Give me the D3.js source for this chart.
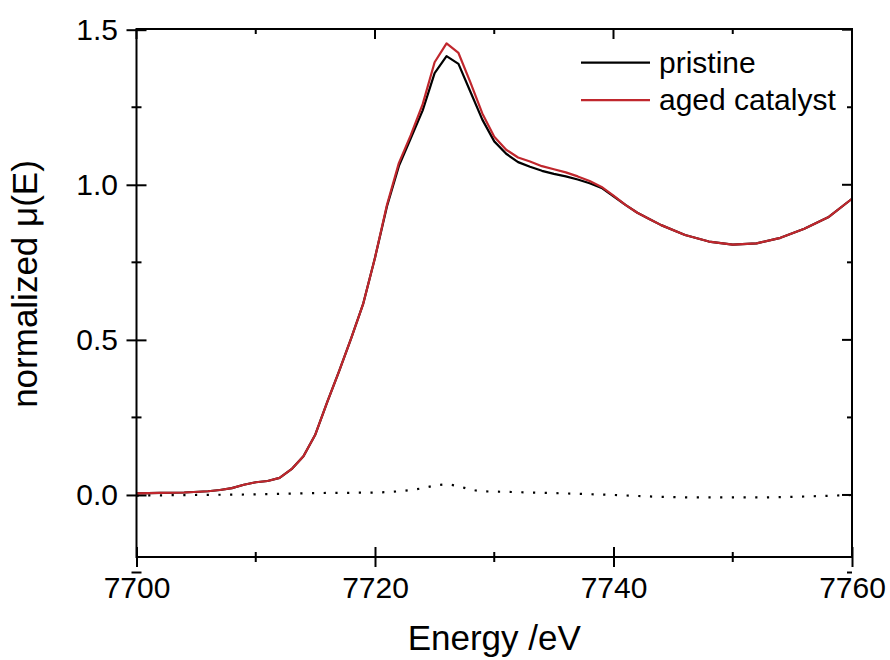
<!DOCTYPE html>
<html>
<head>
<meta charset="utf-8">
<script src="https://cdn.jsdelivr.net/npm/d3@7"></script>
<style>
  body { margin: 0; background: #fff; }
  svg text { font-family: "Liberation Sans", Arial, sans-serif; fill: #000; }
</style>
</head>
<body>
<div id="chart"></div>
<script>
// energies (eV)
const energy = [7700, 7702, 7704, 7706, 7707, 7708, 7709, 7710, 7711, 7712, 7713, 7714, 7715, 7716, 7717, 7718, 7719, 7720,
  7721, 7722, 7723, 7724, 7725, 7726, 7727, 7728, 7729, 7730, 7731, 7732, 7733, 7734, 7735, 7736, 7737, 7738, 7739, 7740,
  7741, 7742, 7743, 7744, 7746, 7748, 7750, 7752, 7754, 7756, 7758, 7760]

const pristine = [0.005, 0.007, 0.008, 0.012, 0.016, 0.022, 0.033, 0.041, 0.045, 0.055, 0.083, 0.125, 0.195, 0.300, 0.400, 0.505, 0.615, 0.765,
  0.93, 1.06, 1.15, 1.24, 1.36, 1.415, 1.39, 1.30, 1.21, 1.14, 1.10, 1.073, 1.058, 1.045, 1.035, 1.027, 1.017, 1.005, 0.99, 0.963,
  0.935, 0.910, 0.89, 0.870, 0.838, 0.817, 0.807, 0.811, 0.829, 0.858, 0.895, 0.955]

const aged = [0.005, 0.007, 0.008, 0.012, 0.016, 0.022, 0.033, 0.041, 0.045, 0.055, 0.083, 0.125, 0.195, 0.300, 0.400, 0.505, 0.615, 0.765,
  0.935, 1.07, 1.16, 1.26, 1.395, 1.456, 1.425, 1.33, 1.23, 1.155, 1.113, 1.088, 1.075, 1.060, 1.050, 1.040, 1.027, 1.012, 0.993, 0.965,
  0.935, 0.910, 0.89, 0.870, 0.838, 0.817, 0.807, 0.811, 0.829, 0.858, 0.895, 0.955]

// dotted difference curve
const diffEnergy = [7700, 7705, 7710, 7715, 7720, 7722, 7724, 7725, 7726, 7727, 7728, 7729, 7731, 7735, 7740, 7744, 7748, 7752, 7756, 7760]
const diffValue = [-0.002, 0.0, 0.002, 0.006, 0.008, 0.012, 0.022, 0.030, 0.034, 0.028, 0.018, 0.012, 0.010, 0.006, 0.0, -0.006, -0.008, -0.008, -0.005, 0.0]

const xMajor = [7700, 7720, 7740, 7760]
const xMinor = [7710, 7730, 7750]
const yMajor = [0.0, 0.5, 1.0, 1.5]
const yMinor = [-0.25, 0.25, 0.75, 1.25]

const seriesNames = ['pristine', 'aged catalyst']
const seriesColors = ['#000000', '#c0272d']

var width = 890, height = 660
var margin = {top: 29, right: 38, bottom: 103, left: 136.5}

const svg = d3.select('#chart')
  .append('svg')
  .attr('width', width)
  .attr('height', height)

var x = d3.scaleLinear()
  .domain([7700, 7760])
  .range([margin.left, width - margin.right])

var y = d3.scaleLinear()
  .domain([-0.2, 1.5])
  .range([height - margin.bottom, margin.top + 0.7])

const x0 = x.range()[0], x1 = x.range()[1]
const yb = y.range()[0], yt = margin.top

// bottom axis with labels, ticks straddle the axis
svg.append('g')
  .attr('transform', `translate(0,${yb})`)
  .call(d3.axisBottom(x).tickValues(xMajor).tickFormat(d3.format('d')).tickSize(10).tickPadding(10))
  .call(g => g.select('.domain').remove())
  .call(g => g.selectAll('.tick line').attr('y1', -10).attr('stroke-width', 2))
  .call(g => g.selectAll('text').attr('font-size', 30).attr('font-family', '"Liberation Sans", Arial, sans-serif'))

svg.append('g')
  .selectAll('line')
  .data(xMinor)
  .enter().append('line')
  .attr('x1', d => x(d)).attr('x2', d => x(d))
  .attr('y1', yb - 5).attr('y2', yb + 5)
  .attr('stroke', '#000').attr('stroke-width', 2)

// left axis
svg.append('g')
  .attr('transform', `translate(${x0},0)`)
  .call(d3.axisLeft(y).tickValues(yMajor).tickFormat(d3.format('.1f')).tickSize(10).tickPadding(8.5))
  .call(g => g.select('.domain').remove())
  .call(g => g.selectAll('.tick line').attr('x1', 10).attr('stroke-width', 2))
  .call(g => g.selectAll('text').attr('font-size', 30).attr('font-family', '"Liberation Sans", Arial, sans-serif'))

svg.append('g')
  .selectAll('line')
  .data(yMinor)
  .enter().append('line')
  .attr('x1', x0 - 5).attr('x2', x0 + 5)
  .attr('y1', d => y(d)).attr('y2', d => y(d))
  .attr('stroke', '#000').attr('stroke-width', 2)

// top and right mirror ticks, inward only
const topTicks = xMajor.map(d => ({v: d, l: 10})).concat(xMinor.map(d => ({v: d, l: 5})))
svg.append('g')
  .selectAll('line')
  .data(topTicks)
  .enter().append('line')
  .attr('x1', d => x(d.v)).attr('x2', d => x(d.v))
  .attr('y1', yt).attr('y2', d => yt + d.l)
  .attr('stroke', '#000').attr('stroke-width', 2)

const rightTicks = yMajor.map(d => ({v: d, l: 10})).concat(yMinor.map(d => ({v: d, l: 5})))
svg.append('g')
  .selectAll('line')
  .data(rightTicks)
  .enter().append('line')
  .attr('x1', x1).attr('x2', d => x1 - d.l)
  .attr('y1', d => y(d.v)).attr('y2', d => y(d.v))
  .attr('stroke', '#000').attr('stroke-width', 2)

// dotted difference
const diffData = diffEnergy.map((e, i) => ({e: e, v: diffValue[i]}))
svg.append('path')
  .datum(diffData)
  .attr('fill', 'none')
  .attr('stroke', '#000')
  .attr('stroke-width', 2.2)
  .attr('stroke-dasharray', '2.2,9.5')
  .attr('d', d3.line()
    .x(d => x(d.e))
    .y(d => y(d.v))
    .curve(d3.curveMonotoneX)
  )

// spectra
const series = [pristine, aged]
series.forEach(function(vals, k) {
  svg.append('path')
    .datum(energy.map((e, i) => ({e: e, v: vals[i]})))
    .attr('fill', 'none')
    .attr('stroke', seriesColors[k])
    .attr('stroke-width', 2.2)
    .attr('stroke-linejoin', 'round')
    .attr('d', d3.line()
      .x(d => x(d.e))
      .y(d => y(d.v))
    )
})

// frame
svg.append('rect')
  .attr('x', x0).attr('y', yt)
  .attr('width', x1 - x0).attr('height', yb - yt)
  .attr('fill', 'none')
  .attr('stroke', '#000')
  .attr('stroke-width', 2)

// legend
const legend = svg.append('g')
seriesNames.forEach(function(name, k) {
  const ly = 62.7 + k * 37.5
  legend.append('line')
    .attr('x1', 581).attr('x2', 650)
    .attr('y1', ly).attr('y2', ly)
    .attr('stroke', seriesColors[k])
    .attr('stroke-width', 2.2)
  legend.append('text')
    .attr('x', 659).attr('y', ly)
    .attr('dy', '0.33em')
    .attr('font-size', 30)
    .text(name)
})

// axis titles
svg.append('text')
  .attr('x', (x0 + x1) / 2)
  .attr('y', 650)
  .attr('text-anchor', 'middle')
  .attr('font-size', 35)
  .text('Energy /eV')

svg.append('text')
  .attr('transform', 'translate(37,284)rotate(-90)')
  .attr('text-anchor', 'middle')
  .attr('font-size', 35)
  .text('normalized μ(E)')
</script>
</body>
</html>
